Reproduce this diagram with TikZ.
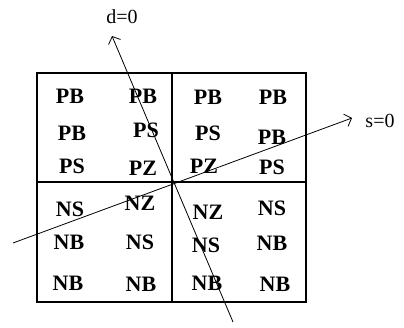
\documentclass[tikz,border=0pt]{standalone}
\usepackage{fontspec}
\setmainfont{Liberation Serif}
\usetikzlibrary{arrows.meta,positioning}
\tikzset{every node/.append style={align=center}}

\begin{document}
\begin{tikzpicture}[x=1pt, y=-1pt,
    rule/.style={font=\fontsize{22}{26}\selectfont\bfseries, inner sep=0pt},
    axislabel/.style={font=\fontsize{20}{24}\selectfont, inner sep=0pt},
    axis/.style={line width=0.8pt, -{Straight Barb[length=6pt, width=13pt]}},
]
    \useasboundingbox (0,0) rectangle (404,327);

    % Table frame
    \coordinate (nw) at (37,73);
    \coordinate (se) at (306,302);
    \coordinate (o) at (172,182);
    \draw[line width=1.1pt] (nw) rectangle (se);
    \draw[line width=1.1pt] (o |- nw) -- (o |- se);
    \draw[line width=1.1pt] (o -| nw) -- (o -| se);

    % Top left
    \node[rule] (a11) at (70,96) {PB};
    \node[rule] (a12) at (143,96) {PB};
    \node[rule] (a21) at (72,133) {PB};
    \node[rule] (a22) at (146,130) {PS};
    \node[rule] (a31) at (72,166) {PS};
    \node[rule] (a32) at (143,168) {PZ};

    % Top right
    \node[rule] (b11) at (208,97) {PB};
    \node[rule] (b12) at (273,97) {PB};
    \node[rule] (b21) at (208,133) {PS};
    \node[rule] (b22) at (272,137) {PB};
    \node[rule] (b31) at (204,166) {PZ};
    \node[rule] (b32) at (272,167) {PS};

    % Bottom left
    \node[rule] (c11) at (70,209) {NS};
    \node[rule] (c12) at (140,203) {NZ};
    \node[rule] (c21) at (69,242) {NB};
    \node[rule] (c22) at (140,242) {NS};
    \node[rule] (c31) at (68,283) {NB};
    \node[rule] (c32) at (141,284) {NB};

    % Bottom right
    \node[rule] (d11) at (208,212) {NZ};
    \node[rule] (d12) at (272,208) {NS};
    \node[rule] (d21) at (206,245) {NS};
    \node[rule] (d22) at (272,243) {NB};
    \node[rule] (d31) at (207,283) {NB};
    \node[rule] (d32) at (275,284) {NB};

    % Switching lines
    \coordinate (dlow) at (233,322);
    \coordinate (dtip) at (112,36);
    \coordinate (slow) at (13,243);
    \coordinate (stip) at (352,118);
    \node[axislabel] (dlabel) at (122,17) {d=0};
    \node[axislabel] (slabel) at (380,121) {s=0};
    \draw[axis] (dlow) -- (dtip);
    \draw[axis] (slow) -- (stip);

\end{tikzpicture}
\end{document}
